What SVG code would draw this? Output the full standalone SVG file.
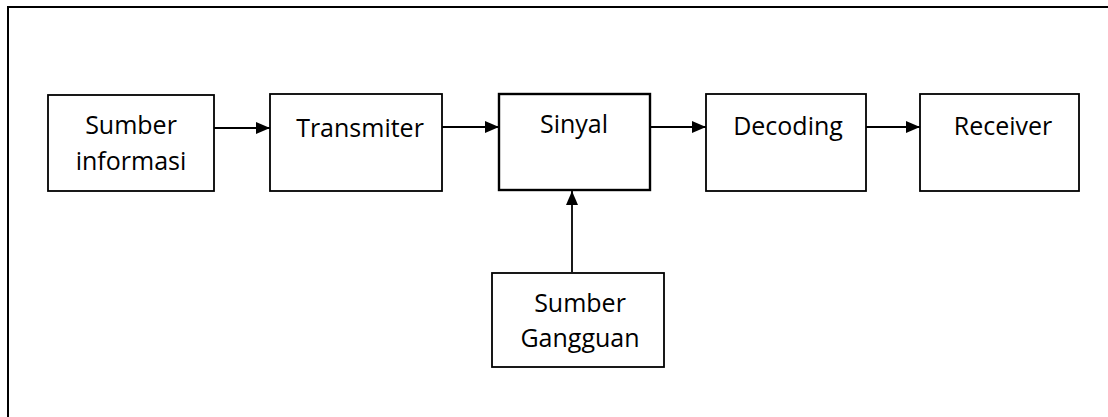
<svg xmlns="http://www.w3.org/2000/svg" width="1108" height="417" viewBox="0 0 1108 417">
<style>
.box{fill:#fff;stroke:#000;stroke-width:1.8}
.box2{fill:#fff;stroke:#000;stroke-width:2.4}
.lbl{font-family:"Open Sans","Liberation Sans",sans-serif;font-size:25px;fill:#000;text-anchor:middle}
.conn{stroke:#000;stroke-width:1.8;fill:none}
</style>
<defs>
<marker id="ah" markerUnits="userSpaceOnUse" markerWidth="15" markerHeight="12" refX="14" refY="6" orient="auto">
<path d="M0,0 L14,6 L0,12 Z" fill="#000"/>
</marker>
</defs>
<rect width="1108" height="417" fill="#fff"/>
<path d="M8,417 L8,7 L1108,7" fill="none" stroke="#000" stroke-width="2"/>
<g id="n-sumber-informasi">
<rect class="box" x="48" y="95" width="166" height="96"/>
<text class="lbl" x="131" y="134">Sumber</text>
<text class="lbl" x="131" y="170">informasi</text>
</g>
<g id="n-transmiter">
<rect class="box" x="270" y="94" width="172" height="97"/>
<text class="lbl" x="360" y="137">Transmiter</text>
</g>
<g id="n-sinyal">
<rect class="box2" x="499" y="94" width="151" height="96"/>
<text class="lbl" x="574" y="133">Sinyal</text>
</g>
<g id="n-decoding">
<rect class="box" x="706" y="94" width="160" height="97"/>
<text class="lbl" x="788" y="135">Decoding</text>
</g>
<g id="n-receiver">
<rect class="box" x="920" y="94" width="159" height="97"/>
<text class="lbl" x="1003" y="135">Receiver</text>
</g>
<g id="n-sumber-gangguan">
<rect class="box" x="492" y="273" width="172" height="94"/>
<text class="lbl" x="580" y="312">Sumber</text>
<text class="lbl" x="580" y="347">Gangguan</text>
</g>
<g id="connectors">
<line class="conn" x1="214" y1="128" x2="270" y2="128" marker-end="url(#ah)"/>
<line class="conn" x1="442" y1="127" x2="499" y2="127" marker-end="url(#ah)"/>
<line class="conn" x1="650" y1="127" x2="706" y2="127" marker-end="url(#ah)"/>
<line class="conn" x1="866" y1="127" x2="920" y2="127" marker-end="url(#ah)"/>
<line class="conn" x1="572" y1="272" x2="572" y2="191" marker-end="url(#ah)"/>
</g>
</svg>
